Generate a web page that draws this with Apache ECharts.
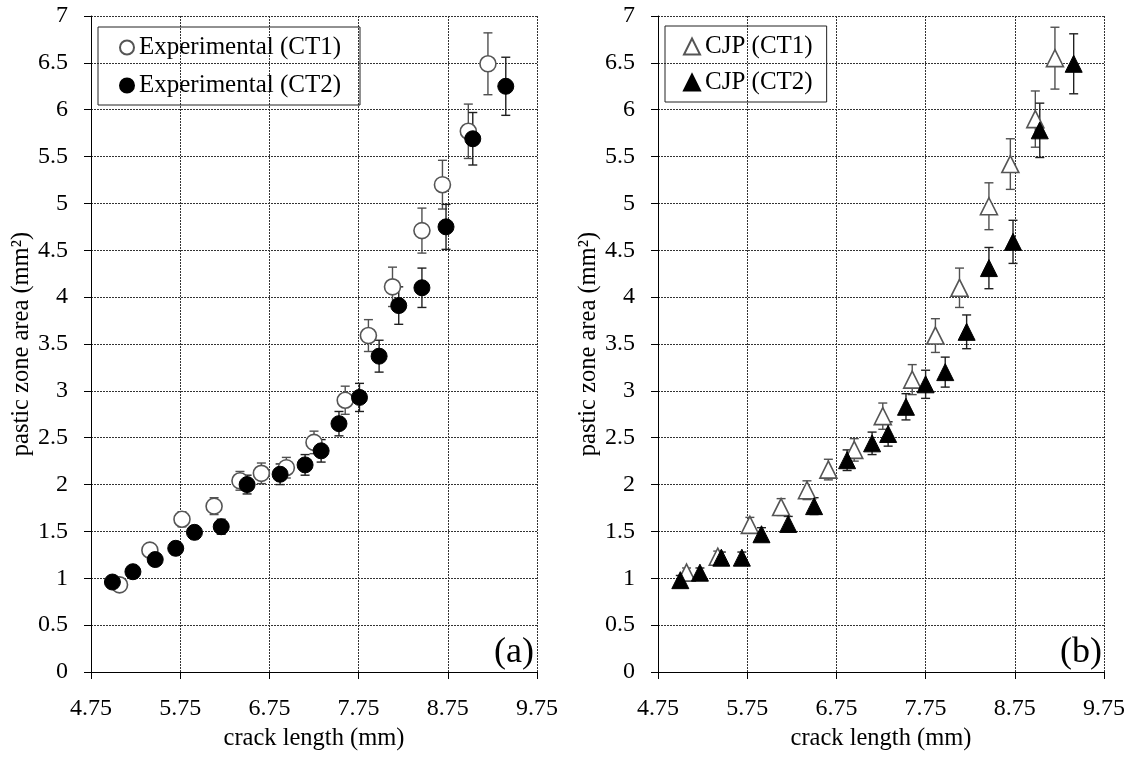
<!DOCTYPE html>
<html>
<head>
<meta charset="utf-8">
<script src="https://cdn.jsdelivr.net/npm/echarts@6/dist/echarts.min.js"></script>
<style>
html,body{margin:0;padding:0;background:#fff;}
#chart{width:1134px;height:758px;}
</style>
</head>
<body>
<div id="chart"></div>
<script>
// ---- data ----
const xTickLabels = ['4.75', '5.75', '6.75', '7.75', '8.75', '9.75'];
const yTickLabels = ['0', '0.5', '1', '1.5', '2', '2.5', '3', '3.5', '4', '4.5', '5', '5.5', '6', '6.5', '7'];

const expCT1_x = [5.07, 5.41, 5.77, 6.13, 6.42, 6.66, 6.94, 7.25, 7.60, 7.86, 8.13, 8.46, 8.69, 8.98, 9.20];
const expCT1_y = [0.93, 1.30, 1.63, 1.77, 2.04, 2.12, 2.18, 2.45, 2.90, 3.59, 4.11, 4.71, 5.20, 5.77, 6.49];
const expCT1_err = [0.05, 0.07, 0.08, 0.09, 0.10, 0.11, 0.11, 0.12, 0.15, 0.17, 0.21, 0.24, 0.26, 0.29, 0.33];

const expCT2_x = [4.99, 5.22, 5.47, 5.70, 5.91, 6.21, 6.50, 6.87, 7.15, 7.33, 7.53, 7.76, 7.98, 8.20, 8.46, 8.73, 9.03, 9.40];
const expCT2_y = [0.96, 1.07, 1.20, 1.32, 1.49, 1.55, 2.00, 2.11, 2.21, 2.36, 2.65, 2.93, 3.37, 3.91, 4.10, 4.75, 5.69, 6.25];
const expCT2_err = [0.05, 0.05, 0.06, 0.07, 0.07, 0.08, 0.10, 0.11, 0.11, 0.12, 0.13, 0.15, 0.17, 0.20, 0.21, 0.24, 0.28, 0.31];

const cjpCT1_x = [5.07, 5.42, 5.78, 6.13, 6.42, 6.66, 6.95, 7.27, 7.60, 7.86, 8.13, 8.46, 8.70, 8.98, 9.20];
const cjpCT1_y = [1.06, 1.23, 1.57, 1.76, 1.94, 2.16, 2.37, 2.73, 3.12, 3.59, 4.10, 4.97, 5.42, 5.90, 6.55];
const cjpCT1_err = [0.05, 0.06, 0.08, 0.09, 0.10, 0.11, 0.12, 0.14, 0.16, 0.18, 0.21, 0.25, 0.27, 0.30, 0.33];

const cjpCT2_x = [5.00, 5.22, 5.46, 5.69, 5.91, 6.21, 6.50, 6.87, 7.15, 7.33, 7.53, 7.75, 7.97, 8.21, 8.46, 8.73, 9.03, 9.41];
const cjpCT2_y = [0.98, 1.06, 1.22, 1.22, 1.47, 1.58, 1.77, 2.26, 2.44, 2.54, 2.83, 3.07, 3.20, 3.63, 4.31, 4.59, 5.78, 6.49];
const cjpCT2_err = [0.05, 0.05, 0.06, 0.06, 0.07, 0.08, 0.09, 0.11, 0.12, 0.13, 0.14, 0.15, 0.16, 0.18, 0.22, 0.23, 0.29, 0.32];

const seriesNames = ['Experimental (CT1)', 'Experimental (CT2)', 'CJP (CT1)', 'CJP (CT2)'];
const panelLabels = ['(a)', '(b)'];
const xTitle = 'crack length (mm)';
const yTitle = 'pastic zone area (mm\u00B2)';

// ---- build ----
const FONT = 'Liberation Serif, Times New Roman, serif';
function pts(xs, ys) { return xs.map((x, i) => [x, ys[i]]); }
function errPts(xs, ys, es) { return xs.map((x, i) => [x, ys[i], es[i]]); }

function errSeries(idx, xs, ys, es, color) {
  return {
    type: 'custom', name: 'err' + idx + color, xAxisIndex: idx, yAxisIndex: idx,
    data: errPts(xs, ys, es), encode: { x: 0, y: 1 }, silent: true, z: 2,
    renderItem: function (params, api) {
      const x = api.value(0), y = api.value(1), e = api.value(2);
      const t = api.coord([x, y + e]);
      const b = api.coord([x, y - e]);
      const w = 4.5;
      const st = { stroke: color, lineWidth: 1.4 };
      return {
        type: 'group', children: [
          { type: 'line', shape: { x1: t[0], y1: t[1], x2: b[0], y2: b[1] }, style: st },
          { type: 'line', shape: { x1: t[0] - w, y1: t[1], x2: t[0] + w, y2: t[1] }, style: st },
          { type: 'line', shape: { x1: b[0] - w, y1: b[1], x2: b[0] + w, y2: b[1] }, style: st }
        ]
      };
    }
  };
}

function xAxis(idx) {
  return {
    type: 'value', gridIndex: idx, min: 4.75, max: 9.75, interval: 1,
    name: xTitle, nameLocation: 'middle', nameGap: 52,
    nameTextStyle: { fontFamily: FONT, fontSize: 24.5, color: '#000' },
    axisLine: { show: true, onZero: false, lineStyle: { color: '#000', width: 1 } },
    axisTick: { show: true, length: 7, lineStyle: { color: '#000' } },
    axisLabel: { margin: 25, fontFamily: FONT, fontSize: 24, color: '#000',
      formatter: v => v.toFixed(2) },
    splitLine: { show: true, lineStyle: { color: '#333', type: [2, 1], width: 1 } }
  };
}
function yAxis(idx) {
  return {
    type: 'value', gridIndex: idx, min: 0, max: 7, interval: 0.5,
    name: yTitle, nameLocation: 'middle', nameGap: 56,
    nameTextStyle: { fontFamily: FONT, fontSize: 24.5, color: '#000' },
    axisLine: { show: true, onZero: false, lineStyle: { color: '#000', width: 1 } },
    axisTick: { show: true, length: 7, lineStyle: { color: '#000' } },
    axisLabel: { margin: 23, fontFamily: FONT, fontSize: 24, color: '#000',
      formatter: v => yTickLabels[Math.round(v / 0.5)] },
    splitLine: { show: true, lineStyle: { color: '#333', type: [2, 1], width: 1 } }
  };
}

const openStyle = { color: '#fff', borderColor: '#555', borderWidth: 1.6, opacity: 1 };
const fillStyle = { color: '#000', borderColor: '#000', borderWidth: 1, opacity: 1 };

const option = {
  animation: false,
  backgroundColor: '#fff',
  grid: [
    { left: 91, top: 16, width: 446, height: 656 },
    { left: 658, top: 16, width: 446, height: 656 }
  ],
  xAxis: [xAxis(0), xAxis(1)],
  yAxis: [yAxis(0), yAxis(1)],
  legend: [
    { data: [seriesNames[0], seriesNames[1]], orient: 'vertical', left: 98, top: 27,
      padding: [8, 19, 7, 21], itemWidth: 14, itemHeight: 14, itemGap: 13,
      borderColor: '#222', borderWidth: 1, selectedMode: false,
      textStyle: { fontFamily: FONT, fontSize: 25, color: '#000' } },
    { data: [seriesNames[2], seriesNames[3]], orient: 'vertical', left: 665, top: 26,
      padding: [8, 14, 7, 18], itemWidth: 16, itemHeight: 16, itemGap: 11,
      borderColor: '#222', borderWidth: 1, selectedMode: false,
      textStyle: { fontFamily: FONT, fontSize: 25, color: '#000' } }
  ],
  graphic: [
    { type: 'text', right: 1134 - 534, bottom: 758 - 671,
      style: { text: panelLabels[0], font: '36px Liberation Serif', fill: '#000' } },
    { type: 'text', right: 1134 - 1102, bottom: 758 - 671,
      style: { text: panelLabels[1], font: '36px Liberation Serif', fill: '#000' } }
  ],
  series: [
    errSeries(0, expCT1_x, expCT1_y, expCT1_err, '#505050'),
    { type: 'scatter', name: seriesNames[0], xAxisIndex: 0, yAxisIndex: 0, symbol: 'circle',
      symbolSize: 16, itemStyle: openStyle, data: pts(expCT1_x, expCT1_y), z: 3 },
    errSeries(0, expCT2_x, expCT2_y, expCT2_err, '#202020'),
    { type: 'scatter', name: seriesNames[1], xAxisIndex: 0, yAxisIndex: 0, symbol: 'circle',
      symbolSize: 16, itemStyle: fillStyle, data: pts(expCT2_x, expCT2_y), z: 3 },

    errSeries(1, cjpCT1_x, cjpCT1_y, cjpCT1_err, '#505050'),
    { type: 'scatter', name: seriesNames[2], xAxisIndex: 1, yAxisIndex: 1, symbol: 'triangle',
      symbolSize: 17, itemStyle: openStyle, data: pts(cjpCT1_x, cjpCT1_y), z: 3 },
    errSeries(1, cjpCT2_x, cjpCT2_y, cjpCT2_err, '#202020'),
    { type: 'scatter', name: seriesNames[3], xAxisIndex: 1, yAxisIndex: 1, symbol: 'triangle',
      symbolSize: 17, itemStyle: fillStyle, data: pts(cjpCT2_x, cjpCT2_y), z: 3 }
  ]
};

const chart = echarts.init(document.getElementById('chart'), null, { renderer: 'canvas' });
chart.setOption(option);
</script>
</body>
</html>
